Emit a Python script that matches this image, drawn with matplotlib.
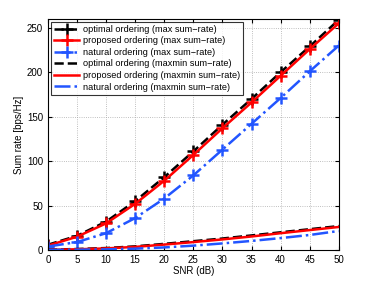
import numpy as np
import matplotlib
matplotlib.use('Agg')
import matplotlib.pyplot as plt

plt.rcParams['font.family'] = ['Liberation Sans', 'DejaVu Sans']

snr = [0, 5, 10, 15, 20, 25, 30, 35, 40, 45, 50]
opt_max = [6, 16, 32, 55, 82, 111, 141, 170, 200, 229, 259]
prop_max = [5, 15, 30, 52, 78, 107, 137, 166, 196, 226, 255]
nat_max = [4, 9, 19, 36, 58, 84, 113, 142, 171, 201, 230]
opt_mm = [0.5, 1.2, 2.3, 4.2, 7, 10, 13, 16.5, 20, 23.5, 27]
prop_mm = [0.3, 0.9, 1.9, 3.6, 6.2, 9, 12, 15.3, 19, 22.5, 26]
nat_mm = [0.2, 0.4, 0.8, 1.6, 3, 5, 7.5, 10.3, 13.5, 17, 21.5]

fig = plt.figure(figsize=(3.74, 2.81), dpi=100)
ax = fig.add_axes([0.128, 0.11, 0.778, 0.823])

mk = dict(marker='+', ms=8, mew=1.8)
ax.plot(snr, opt_max, 'k--', lw=1.8, label='optimal ordering (max sum\u2212rate)', **mk)
ax.plot(snr, prop_max, color='red', lw=1.8, label='proposed ordering (max sum\u2212rate)', **mk)
ax.plot(snr, nat_max, color='#2255ff', ls='-.', lw=1.8, label='natural ordering (max sum\u2212rate)', **mk)
ax.plot(snr, opt_mm, 'k--', lw=1.8, label='optimal ordering (maxmin sum\u2212rate)')
ax.plot(snr, prop_mm, color='red', lw=1.8, label='proposed ordering (maxmin sum\u2212rate)')
ax.plot(snr, nat_mm, color='#2255ff', ls='-.', lw=1.8, label='natural ordering (maxmin sum\u2212rate)')

ax.set_xlim(0, 50)
ax.set_ylim(0, 260)
ax.set_xticks(range(0, 51, 5))
ax.set_yticks(range(0, 251, 50))
ax.grid(True, ls=':', lw=0.6, color='#aaaaaa')
ax.tick_params(direction='in', top=True, right=True, labelsize=7, length=3)
ax.set_xlabel('SNR (dB)', fontsize=7, labelpad=1)
ax.set_ylabel('Sum rate [bps/Hz]', fontsize=7, labelpad=2)
leg = ax.legend(loc='upper left', fontsize=6.6, frameon=True, fancybox=False,
                edgecolor='black', handlelength=2.8, borderpad=0.35,
                labelspacing=0.28, handletextpad=0.4, borderaxespad=0.3)
leg.get_frame().set_linewidth(0.8)
fig.savefig('out.png', dpi=100)
